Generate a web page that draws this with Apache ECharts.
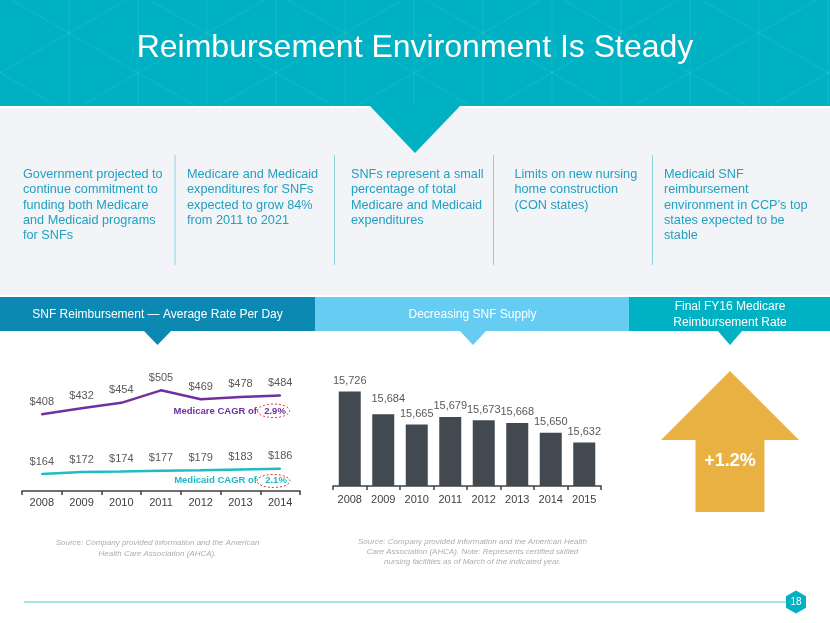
<!DOCTYPE html>
<html><head><meta charset="utf-8">
<script src="https://cdn.jsdelivr.net/npm/echarts@6/dist/echarts.min.js"></script>
<style>html,body{margin:0;padding:0;background:#fff}#c{width:830px;height:623px}</style>
</head><body><div id="c"></div><script>
// ---- data ----
const rateYears = ['2008','2009','2010','2011','2012','2013','2014'];
const medicareRate = [408,432,454,505,469,478,484];
const medicaidRate = [164,172,174,177,179,183,186];
const supplyYears = ['2008','2009','2010','2011','2012','2013','2014','2015'];
const snfSupply = [15726,15684,15665,15679,15673,15668,15650,15632];
const medicareCagr = '2.9%';
const medicaidCagr = '2.1%';
const fy16Rate = '+1.2%';
const titleText = 'Reimbursement Environment Is Steady';
const bullets = [
  'Government projected to\ncontinue commitment to\nfunding both Medicare\nand Medicaid programs\nfor SNFs',
  'Medicare and Medicaid\nexpenditures for SNFs\nexpected to grow 84%\nfrom 2011 to 2021',
  'SNFs represent a small\npercentage of total\nMedicare and Medicaid\nexpenditures',
  'Limits on new nursing\nhome construction\n(CON states)',
  'Medicaid SNF\nreimbursement\nenvironment in CCP\u2019s top\nstates expected to be\nstable'
];
const sectionTitles = ['SNF Reimbursement \u2014 Average Rate Per Day','Decreasing SNF Supply','Final FY16 Medicare\nReimbursement Rate'];
const sources = [
  'Source: Company provided information and the American\nHealth Care Association (AHCA).',
  'Source: Company provided information and the American Health\nCare Association (AHCA). Note: Represents certified skilled\nnursing facilities as of March of the indicated year.'
];
const pageNo = '18';

// ---- styling ----
const FF = '"Liberation Sans", Arial, Helvetica, sans-serif';
const TEAL = '#00B1C3';
const g = [];
// header band
g.push({type:'rect', shape:{x:0,y:0,width:830,height:106}, style:{fill:TEAL}, silent:true});
// lattice pattern
const latticeStroke = 'rgba(255,255,255,0.09)';
for (let k = 1; k * 69 < 830; k++) {
  g.push({type:'line', shape:{x1:k*69,y1:0,x2:k*69,y2:106}, style:{stroke:latticeStroke,lineWidth:1}, silent:true});
}
const m = Math.tan(Math.PI/6);
function addDiag(slope, c) {
  let xa, xb;
  if (slope > 0) { xa = Math.max(0, (0 - c)/slope); xb = Math.min(830, (106 - c)/slope); }
  else { xa = Math.max(0, (106 - c)/slope); xb = Math.min(830, (0 - c)/slope); }
  if (xa < xb) g.push({type:'line', shape:{x1:xa,y1:slope*xa+c,x2:xb,y2:slope*xb+c}, style:{stroke:latticeStroke,lineWidth:1}, silent:true});
}
const sp = 2*69/Math.sqrt(3);
for (let n = -8; n <= 3; n++) addDiag(m, 33 - 69*m + sp*n);
for (let n = -2; n <= 8; n++) addDiag(-m, 33 + 69*m + sp*n);
// title
g.push({type:'text', x:415, y:48, style:{text:titleText, fill:'#fff', fontSize:32, fontFamily:FF, align:'center', verticalAlign:'middle'}, silent:true});
// grey band
g.push({type:'rect', shape:{x:0,y:108,width:830,height:187}, style:{fill:'#F2F4F7'}, silent:true});
// header triangle
g.push({type:'polygon', shape:{points:[[369,105],[461,105],[415,153]]}, style:{fill:TEAL}, silent:true});
// bullet columns
const colX = [23, 187, 351, 514.5, 664];
bullets.forEach((t, i) => {
  g.push({type:'text', x:colX[i], y:167, style:{text:t, fill:'#22A0C0', fontSize:12.7, lineHeight:15.3, fontFamily:FF, align:'left', verticalAlign:'top'}, silent:true});
});
[175, 334.5, 493.5, 652.5].forEach(x => {
  g.push({type:'line', shape:{x1:x,y1:155,x2:x,y2:265}, style:{stroke:'#8DD4DF',lineWidth:1}, silent:true});
});
// section header bars
const secBars = [
  {x:0, w:315, c:'#0B89B3', tri:[143,172], cx:157.5},
  {x:315, w:314, c:'#66CCF1', tri:[459,487], cx:472.5},
  {x:629, w:201, c:'#00B0C3', tri:[717,743], cx:730}
];
secBars.forEach((b, i) => {
  g.push({type:'rect', shape:{x:b.x,y:297,width:b.w,height:34}, style:{fill:b.c}, silent:true});
  g.push({type:'polygon', shape:{points:[[b.tri[0],330],[b.tri[1],330],[(b.tri[0]+b.tri[1])/2,345]]}, style:{fill:b.c}, silent:true});
  g.push({type:'text', x:b.cx, y:i===2?314.5:315, style:{text:sectionTitles[i], fill:'#fff', fontSize:12, lineHeight:16, fontFamily:FF, align:'center', verticalAlign:'middle'}, silent:true});
});
// CAGR annotations
g.push({type:'text', x:257, y:411, style:{text:'Medicare CAGR of', fill:'#7030A0', fontSize:9.5, fontWeight:'bold', fontFamily:FF, align:'right', verticalAlign:'middle'}, silent:true});
g.push({type:'text', x:275, y:411, style:{text:medicareCagr, fill:'#7030A0', fontSize:9.5, fontWeight:'bold', fontFamily:FF, align:'center', verticalAlign:'middle'}, silent:true});
g.push({type:'ellipse', shape:{cx:273.5,cy:410.8,rx:16,ry:6.8}, style:{fill:'none', stroke:'#E0393E', lineWidth:1, lineDash:[2,2]}, silent:true});
g.push({type:'text', x:257, y:480.5, style:{text:'Medicaid CAGR of', fill:'#1DB8C6', fontSize:9.5, fontWeight:'bold', fontFamily:FF, align:'right', verticalAlign:'middle'}, silent:true});
g.push({type:'text', x:276, y:480.5, style:{text:medicaidCagr, fill:'#1DB8C6', fontSize:9.5, fontWeight:'bold', fontFamily:FF, align:'center', verticalAlign:'middle'}, silent:true});
g.push({type:'ellipse', shape:{cx:273.5,cy:481,rx:16.5,ry:6.5}, style:{fill:'none', stroke:'#E0393E', lineWidth:1, lineDash:[2,2]}, silent:true});
// arrow
g.push({type:'polygon', shape:{points:[[730,371],[799,440],[764.5,440],[764.5,512],[695.5,512],[695.5,440],[661,440]]}, style:{fill:'#E9B142'}, silent:true});
g.push({type:'text', x:730, y:461, style:{text:fy16Rate, fill:'#fff', fontSize:18, fontWeight:'bold', fontFamily:FF, align:'center', verticalAlign:'middle'}, silent:true});
// sources
g.push({type:'text', x:157.5, y:537, style:{text:sources[0], fill:'#ADADAD', fontSize:8, fontStyle:'italic', lineHeight:11, fontFamily:FF, align:'center', verticalAlign:'top'}, silent:true});
g.push({type:'text', x:472.5, y:537, style:{text:sources[1], fill:'#ADADAD', fontSize:8, fontStyle:'italic', lineHeight:10, fontFamily:FF, align:'center', verticalAlign:'top'}, silent:true});
// footer line & page number
g.push({type:'line', shape:{x1:24,y1:602,x2:786,y2:602}, style:{stroke:'#8ADCE5',lineWidth:1.5}, silent:true});
g.push({type:'polygon', shape:{points:[[796,590.5],[806,596.3],[806,607.7],[796,613.5],[786,607.7],[786,596.3]]}, style:{fill:'#00B0C3'}, silent:true});
g.push({type:'text', x:796, y:602.5, style:{text:pageNo, fill:'#fff', fontSize:10, fontFamily:FF, align:'center', verticalAlign:'middle'}, silent:true});

const chart = echarts.init(document.getElementById('c'), null, {renderer:'canvas'});
const axisCommon = {
  type:'category', boundaryGap:true,
  axisLine:{show:true, lineStyle:{color:'#404040', width:1.5}},
  axisTick:{show:true, length:4, lineStyle:{color:'#404040', width:1.5}},
  axisLabel:{color:'#404040', fontSize:11, fontFamily:FF}
};
const supplyData = snfSupply.map((v, i) => i === 1 ? {value:v, label:{offset:[5,-5]}} : v);
const lineLabel = {show:true, position:'top', distance:6, color:'#595959', fontSize:11, fontFamily:FF, formatter:p => '$' + p.value};
chart.setOption({
  animation:false,
  backgroundColor:'#ffffff',
  graphic:{elements:g},
  grid:[
    {left:22, top:367, width:278, height:124},
    {left:333, top:380, width:268, height:106}
  ],
  xAxis:[
    Object.assign({}, axisCommon, {gridIndex:0, data:rateYears, axisLabel:Object.assign({}, axisCommon.axisLabel, {margin:6})}),
    Object.assign({}, axisCommon, {gridIndex:1, data:supplyYears, axisLabel:Object.assign({}, axisCommon.axisLabel, {margin:8})})
  ],
  yAxis:[
    {gridIndex:0, type:'value', min:95, max:600, show:false, splitLine:{show:false}},
    {gridIndex:1, type:'value', min:15552, max:15747, show:false, splitLine:{show:false}}
  ],
  series:[
    {type:'line', name:'Medicare', xAxisIndex:0, yAxisIndex:0, data:medicareRate, symbol:'circle', symbolSize:2, showSymbol:true,
     lineStyle:{color:'#7030A0', width:2.5}, itemStyle:{color:'#7030A0'}, labelLayout:{hideOverlap:false},
     label:lineLabel},
    {type:'line', name:'Medicaid', xAxisIndex:0, yAxisIndex:0, data:medicaidRate, symbol:'circle', symbolSize:2, showSymbol:true,
     lineStyle:{color:'#1FBCC6', width:2.5}, itemStyle:{color:'#1FBCC6'}, labelLayout:{hideOverlap:false},
     label:lineLabel},
    {type:'bar', name:'SNF Supply', xAxisIndex:1, yAxisIndex:1, data:supplyData, barWidth:22,
     itemStyle:{color:'#424950'},
     label:{show:true, position:'top', distance:5, color:'#595959', fontSize:11, fontFamily:FF, formatter:p => Number(p.value).toLocaleString('en-US')}}
  ]
});
</script></body></html>
